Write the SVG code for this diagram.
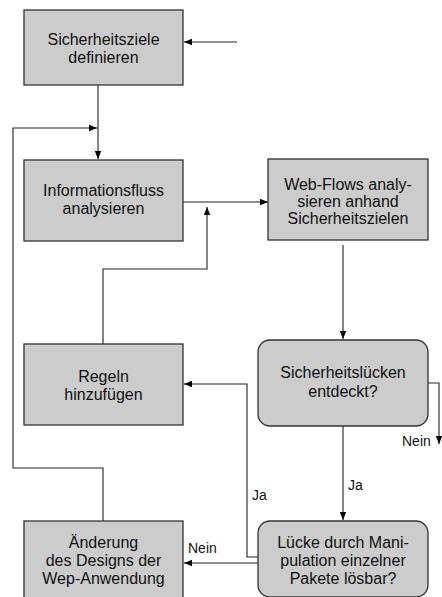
<svg xmlns="http://www.w3.org/2000/svg" width="442" height="597" viewBox="0 0 442 597">
<style>
.box{fill:#cccccc;stroke:#333333;stroke-width:1.3}
.t{font-family:"Liberation Sans",Arial,sans-serif;font-size:16px;fill:#111;text-anchor:middle}
.l{font-family:"Liberation Sans",Arial,sans-serif;font-size:14px;fill:#111}
.c{fill:none;stroke:#222;stroke-width:1.1;marker-end:url(#ah)}
</style>
<defs>
<marker id="ah" markerUnits="userSpaceOnUse" markerWidth="8" markerHeight="8" viewBox="0 0 8 8" refX="8" refY="4" orient="auto">
<path d="M0,0.8 L8,4 L0,7.2 Z" fill="#000"/>
</marker>
</defs>
<rect width="442" height="597" fill="#fff"/>
<g id="connectors">
<path class="c" d="M237,42 H184"/>
<path class="c" d="M98,85 V159"/>
<path class="c" d="M103,521 V468 H13 V128 H97"/>
<path class="c" d="M183,202 H268"/>
<path class="c" d="M103,344 V269 H207 V207"/>
<path class="c" d="M343,245 V339"/>
<path class="c" d="M428,383 H439 V444"/>
<path class="c" d="M343,426 V520"/>
<path class="c" d="M258,557 H247 V384 H184"/>
<path class="c" d="M258,563 H184"/>
</g>
<g id="labels">
<text class="l" x="402" y="446">Nein</text>
<text class="l" x="252" y="500">Ja</text>
<text class="l" x="348" y="490">Ja</text>
<text class="l" x="188" y="553">Nein</text>
</g>
<g id="n1">
<rect class="box" x="24" y="10" width="159" height="75"/>
<text class="t" x="103.5" y="45">Sicherheitsziele</text>
<text class="t" x="103.5" y="63">definieren</text>
</g>
<g id="n2">
<rect class="box" x="24" y="160" width="159" height="81"/>
<text class="t" x="103.5" y="196">Informationsfluss</text>
<text class="t" x="103.5" y="214">analysieren</text>
</g>
<g id="n3">
<rect class="box" x="268" y="159" width="160" height="81"/>
<text class="t" x="348" y="190">Web-Flows analy-</text>
<text class="t" x="348" y="207">sieren anhand</text>
<text class="t" x="348" y="224">Sicherheitszielen</text>
</g>
<g id="n4">
<rect class="box" x="24" y="344" width="159" height="81"/>
<text class="t" x="103.5" y="382">Regeln</text>
<text class="t" x="103.5" y="400">hinzufügen</text>
</g>
<g id="n5">
<rect class="box" x="258" y="340" width="170" height="86" rx="12"/>
<text class="t" x="343" y="378">Sicherheitslücken</text>
<text class="t" x="343" y="397">entdeckt?</text>
</g>
<g id="n6">
<rect class="box" x="24" y="521" width="159" height="86"/>
<text class="t" x="103.5" y="548">Änderung</text>
<text class="t" x="103.5" y="566">des Designs der</text>
<text class="t" x="103.5" y="584">Wep-Anwendung</text>
</g>
<g id="n7">
<rect class="box" x="258" y="521" width="170" height="76" rx="12"/>
<text class="t" x="343" y="548">Lücke durch Mani-</text>
<text class="t" x="343" y="566">pulation einzelner</text>
<text class="t" x="343" y="584">Pakete lösbar?</text>
</g>
</svg>
